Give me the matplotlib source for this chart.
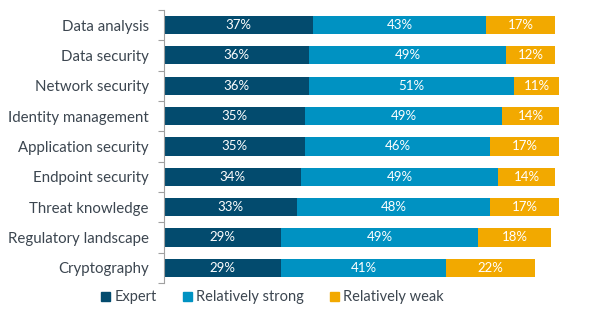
import matplotlib
matplotlib.use("Agg")
import matplotlib.pyplot as plt
import numpy as np
from matplotlib.patches import Patch

categories = ["Data analysis", "Data security", "Network security", "Identity management",
              "Application security", "Endpoint security", "Threat knowledge",
              "Regulatory landscape", "Cryptography"]
expert = [37, 36, 36, 35, 35, 34, 33, 29, 29]
strong = [43, 49, 51, 49, 46, 49, 48, 49, 41]
weak = [17, 12, 11, 14, 17, 14, 17, 18, 22]
series_names = ["Expert", "Relatively strong", "Relatively weak"]
colors = ["#034B6E", "#0092C2", "#F2A900"]

plt.rcParams['font.family'] = ['Lato', 'DejaVu Sans']

fig = plt.figure(figsize=(6.04, 3.29), dpi=100)
ax = fig.add_axes([0.2715, 0.14, 0.667, 0.83])

y = np.arange(len(categories))
left = np.zeros(len(categories))
for vals, c in zip([expert, strong, weak], colors):
    ax.barh(y, vals, left=left, color=c, height=0.6)
    for yi, l, v in zip(y, left, vals):
        ax.text(l + v / 2, yi, f"{v}%", ha="center", va="center", color="white", fontsize=9.5)
    left = left + np.array(vals)

ax.set_xlim(0, 100)
ax.set_ylim(len(categories) - 0.5, -0.5)
ax.set_yticks(y)
ax.set_yticklabels(categories, fontsize=10.8, color="#3C4650")
ax.tick_params(axis="y", which="major", length=0, pad=11)
ax.set_yticks(np.arange(-0.5, len(categories), 1), minor=True)
ax.tick_params(axis="y", which="minor", length=4, color="#A0A0A0", width=0.8)
ax.set_xticks([])
for s in ["top", "right", "bottom"]:
    ax.spines[s].set_visible(False)
ax.spines["left"].set_color("#A0A0A0")
ax.spines["left"].set_linewidth(0.8)

handles = [Patch(color=c, label=n) for c, n in zip(colors, series_names)]
leg = fig.legend(handles=handles, loc="center left", bbox_to_anchor=(0.158, 0.096), ncol=3,
                 frameon=False, fontsize=10.5, handlelength=0.6, handleheight=0.6,
                 handletextpad=0.3, columnspacing=1.8, borderaxespad=0)
for t in leg.get_texts():
    t.set_color("#3C4650")

fig.savefig("out.png", dpi=100)
